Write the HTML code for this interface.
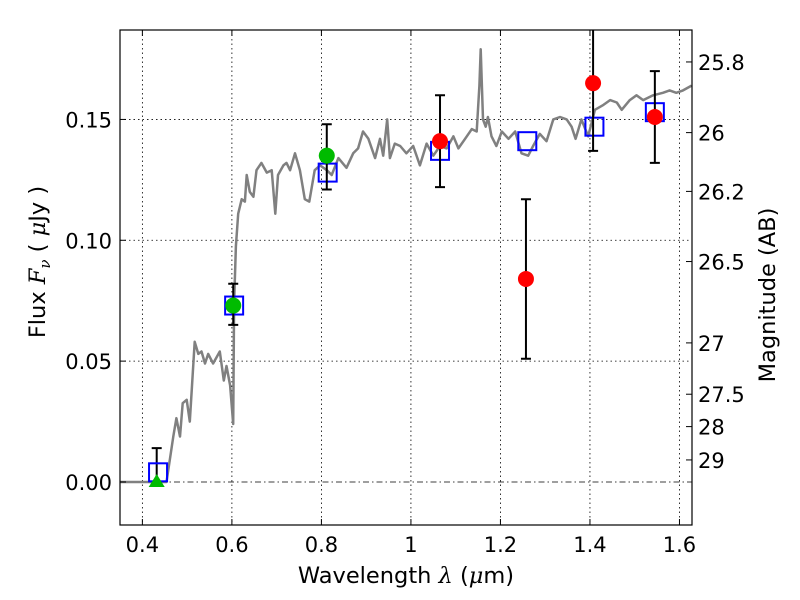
<!DOCTYPE html>
<html><head><meta charset="utf-8"><style>
body{margin:0;background:#fff}
svg{display:block;font-family:"DejaVu Sans","Liberation Sans",sans-serif}
</style></head><body>
<svg id="c" width="800" height="600" viewBox="0 0 800 600">
<rect width="800" height="600" fill="#fff"/>
<g id="grid"></g>
<g id="plot"></g>
<rect x="120" y="30" width="572" height="495" fill="none" stroke="#000" stroke-width="1.2"/>
<g id="axes"></g>
<text x="406" y="583" font-size="22.5" text-anchor="middle">Wavelength  <tspan font-family="DejaVu Serif" font-style="italic">λ</tspan> (<tspan font-family="DejaVu Serif" font-style="italic">μ</tspan>m)</text>
<text transform="translate(45,262) rotate(-90)" font-size="22.5" text-anchor="middle">Flux  <tspan font-family="DejaVu Serif" font-style="italic">F</tspan><tspan font-family="DejaVu Serif" font-style="italic" font-size="15" dy="5">ν</tspan><tspan dy="-5">  (  </tspan><tspan font-family="DejaVu Serif" font-style="italic">μ</tspan>Jy )</text>
<text transform="translate(775,295) rotate(-90)" font-size="22.5" text-anchor="middle">Magnitude (AB)</text>
</svg>
<script>
const specX=[0.35,0.454,0.469,0.476,0.484,0.490,0.499,0.506,0.517,0.525,0.532,0.540,0.547,0.558,0.573,0.582,0.588,0.596,0.603,0.605,0.609,0.614,0.622,0.629,0.633,0.640,0.648,0.655,0.666,0.678,0.689,0.697,0.703,0.715,0.722,0.730,0.741,0.752,0.763,0.773,0.785,0.797,0.812,0.823,0.838,0.856,0.871,0.882,0.893,0.905,0.920,0.931,0.938,0.947,0.953,0.964,0.976,0.990,1.005,1.020,1.035,1.050,1.065,1.080,1.095,1.106,1.121,1.136,1.147,1.153,1.156,1.161,1.167,1.172,1.180,1.191,1.203,1.218,1.233,1.247,1.262,1.273,1.288,1.303,1.318,1.333,1.348,1.359,1.368,1.381,1.396,1.411,1.430,1.445,1.460,1.471,1.489,1.504,1.519,1.541,1.563,1.578,1.593,1.608,1.627];
const specY=[0,0,0.0188,0.0264,0.0188,0.0326,0.034,0.025,0.058,0.053,0.054,0.049,0.053,0.049,0.054,0.042,0.048,0.040,0.024,0.074,0.0976,0.111,0.117,0.116,0.127,0.120,0.118,0.129,0.132,0.128,0.129,0.111,0.127,0.131,0.132,0.129,0.136,0.129,0.117,0.116,0.129,0.131,0.129,0.127,0.134,0.130,0.136,0.138,0.145,0.142,0.134,0.142,0.135,0.150,0.134,0.140,0.139,0.136,0.139,0.131,0.140,0.135,0.139,0.138,0.143,0.138,0.142,0.146,0.145,0.164,0.179,0.150,0.147,0.151,0.143,0.139,0.145,0.142,0.145,0.136,0.135,0.139,0.144,0.141,0.150,0.151,0.150,0.147,0.142,0.150,0.143,0.154,0.156,0.158,0.157,0.154,0.158,0.160,0.158,0.160,0.161,0.162,0.161,0.162,0.164];
const modelX=[0.435,0.605,0.814,1.065,1.26,1.41,1.545];
const modelY=[0.004,0.073,0.128,0.137,0.141,0.147,0.153];
const greenX=[0.603,0.812];
const greenY=[0.073,0.135];
const greenLo=[0.065,0.121];
const greenHi=[0.082,0.148];
const limX=[0.432];
const limY=[0.0];
const limHi=[0.014];
const redX=[1.065,1.257,1.407,1.545];
const redY=[0.141,0.084,0.165,0.151];
const redLo=[0.122,0.051,0.137,0.132];
const redHi=[0.160,0.117,0.200,0.170];
const xTicks=[0.4,0.6,0.8,1.0,1.2,1.4,1.6];
const xTickLabels=["0.4","0.6","0.8","1","1.2","1.4","1.6"];
const yTicks=[0,0.05,0.10,0.15];
const yTickLabels=["0.00","0.05","0.10","0.15"];
const magTicks=[25.8,26,26.2,26.5,27,27.5,28,29];
const magLabels=["25.8","26","26.2","26.5","27","27.5","28","29"];

const X0=0.35,X1=1.628,Y0=-0.0178,Y1=0.187,L=120,R=692,T=30,B=525;
const sx=v=>L+(v-X0)/(X1-X0)*(R-L);
const sy=v=>B-(v-Y0)/(Y1-Y0)*(B-T);
const NS="http://www.w3.org/2000/svg";
function mk(tag,attrs,parent){const e=document.createElementNS(NS,tag);for(const k in attrs)e.setAttribute(k,attrs[k]);parent.appendChild(e);return e;}
const grid=document.getElementById('grid'),plot=document.getElementById('plot'),axes=document.getElementById('axes');

xTicks.forEach((t,i)=>{
  const x=sx(t);
  let g=mk('line',{x1:x,x2:x,y1:T,y2:B,stroke:'#000','stroke-width':0.8,'stroke-dasharray':'1.5,3'},grid);
  
  
  let a=mk('line',{x1:x,x2:x,y1:B,y2:B-6,stroke:'#000'},axes);
  
  
  let b=mk('line',{x1:x,x2:x,y1:T,y2:T+6,stroke:'#000'},axes);
  
  
  let tx=mk('text',{x:x,y:B+27,'font-size':21,'text-anchor':'middle'},axes);
  tx.textContent=xTickLabels[i];
  
  
});
yTicks.forEach((t,i)=>{
  const y=sy(t);
  let g=mk('line',{x1:L,x2:R,y1:y,y2:y,stroke:'#000','stroke-width':0.8,'stroke-dasharray':t===0?'6,3,1.5,3':'1.5,3'},grid);
  
  
  let a=mk('line',{x1:L,x2:L+6,y1:y,y2:y,stroke:'#000'},axes);
  
  
  let tx=mk('text',{x:L-8,y:y+8,'font-size':21,'text-anchor':'end'},axes);
  tx.textContent=yTickLabels[i];
  
  
});
magTicks.forEach((m,i)=>{
  const y=sy(Math.pow(10,(23.9-m)/2.5));
  let a=mk('line',{x1:R,x2:R-6,y1:y,y2:y,stroke:'#000'},axes);
  
  
  let tx=mk('text',{x:R+6,y:y+8,'font-size':21},axes);
  tx.textContent=magLabels[i];
  
  
});

let d=specX.map((x,i)=>(i?'L':'M')+sx(x).toFixed(1)+','+sy(specY[i]).toFixed(1)).join('');
let sp=mk('path',{d:d,fill:'none',stroke:'#808080','stroke-width':2.5,'stroke-linejoin':'round'},plot);



function errbar(x,lo,hi){
  const X=sx(x),a=sy(lo),b=Math.max(sy(hi),T);
  let g=mk('path',{d:`M${X},${a}V${b}M${X-5},${a}H${X+5}`+(sy(hi)>T?`M${X-5},${b}H${X+5}`:''),stroke:'#000','stroke-width':2,fill:'none'},plot);
  
  
}
limX.forEach((x,i)=>errbar(x,limY[i],limHi[i]));
modelX.forEach((x,i)=>{
  let r=mk('rect',{x:sx(x)-9,y:sy(modelY[i])-9,width:18,height:18,fill:'none',stroke:'#0000ff','stroke-width':2},plot);
  
  
});
limX.forEach((x,i)=>{
  const X=sx(x),Y=sy(limY[i]);
  let p=mk('polygon',{points:`${X},${Y-8} ${X-8},${Y+5} ${X+8},${Y+5}`,fill:'#00bb00'},plot);
  
  
});
greenX.forEach((x,i)=>{
  errbar(x,greenLo[i],greenHi[i]);
  let c=mk('circle',{cx:sx(x),cy:sy(greenY[i]),r:8,fill:'#00bb00'},plot);
  
  
});
redX.forEach((x,i)=>{
  errbar(x,redLo[i],redHi[i]);
  let c=mk('circle',{cx:sx(x),cy:sy(redY[i]),r:8,fill:'#ff0000'},plot);
  
  
});
</script>
</body></html>
